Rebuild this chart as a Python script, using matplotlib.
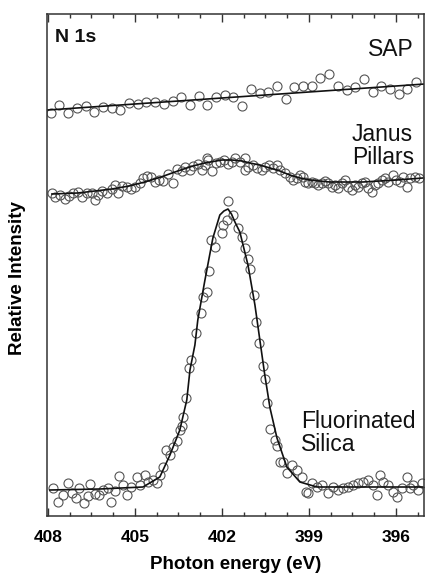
import numpy as np
import matplotlib
matplotlib.use("Agg")
import matplotlib.pyplot as plt
from matplotlib.ticker import MultipleLocator

plt.rcParams['font.family'] = ['Liberation Sans', 'DejaVu Sans']

# ---- SAP ----
sap_e = [407.90, 407.60, 407.30, 407.00, 406.70, 406.40, 406.10, 405.80, 405.50, 405.20,
         404.90, 404.60, 404.30, 404.00, 403.70, 403.40, 403.10, 402.80, 402.50, 402.20,
         401.90, 401.60, 401.30, 401.00, 400.70, 400.40, 400.10, 399.80, 399.50, 399.20,
         398.90, 398.60, 398.30, 398.00, 397.70, 397.40, 397.10, 396.80, 396.50, 396.20,
         395.90, 395.60, 395.30]
sap_i = [403, 411, 403, 408, 410, 404, 409, 408, 406, 413,
         412, 414, 414, 412, 415, 419, 411, 420, 411, 419,
         421, 419, 410, 427, 423, 424, 430, 417, 429, 430,
         430, 438, 442, 430, 426, 429, 437, 424, 430, 427,
         422, 427, 434]
sap_fit_e = [408.0, 395.0]
sap_fit_i = [406, 432]

# ---- Janus Pillars ----
jan_e = [407.86, 407.76, 407.59, 407.41, 407.28, 407.14, 406.97, 406.83, 406.66, 406.48,
         406.38, 406.28, 406.14, 405.97, 405.79, 405.69, 405.59, 405.45, 405.28, 405.14,
         405.00, 404.83, 404.72, 404.59, 404.45, 404.31, 404.17, 404.03, 403.86, 403.69,
         403.55, 403.38, 403.28, 403.10, 403.00, 402.83, 402.69, 402.59, 402.52, 402.48,
         402.34, 402.21, 402.07, 401.93, 401.79, 401.66, 401.55, 401.38, 401.21, 401.20,
         401.10, 400.93, 400.79, 400.62, 400.52, 400.38, 400.24, 400.10, 400.00, 399.83,
         399.66, 399.55, 399.41, 399.31, 399.21, 399.14, 399.03, 398.90, 398.79, 398.69,
         398.55, 398.45, 398.34, 398.21, 398.10, 398.00, 397.86, 397.76, 397.66, 397.52,
         397.41, 397.31, 397.17, 397.07, 396.97, 396.83, 396.72, 396.62, 396.48, 396.38,
         396.28, 396.10, 396.00, 395.86, 395.76, 395.62, 395.52, 395.34, 395.21]
jan_i = [323, 319, 321, 317, 320, 323, 324, 319, 323, 323,
         316, 321, 325, 323, 327, 331, 323, 330, 329, 327,
         329, 333, 338, 340, 339, 334, 336, 335, 342, 333,
         347, 345, 349, 346, 350, 352, 346, 351, 358, 356,
         345, 353, 354, 356, 352, 354, 358, 354, 358, 346,
         349, 351, 348, 346, 349, 351, 348, 351, 346, 343,
         339, 336, 338, 341, 339, 334, 333, 334, 333, 331,
         333, 335, 333, 329, 331, 328, 333, 336, 329, 326,
         331, 329, 333, 334, 328, 324, 331, 333, 336, 338,
         334, 341, 336, 334, 339, 329, 338, 339, 338]
jan_fit_e = [407.86, 406.97, 405.79, 405.20, 404.66, 404.10, 403.52, 403.00, 402.59, 402.00,
             401.66, 401.30, 401.03, 400.70, 400.34, 400.00, 399.66, 399.30, 398.97, 398.28,
             397.14, 395.97, 395.07]
jan_fit_i = [322, 323, 327, 330, 334, 339, 345, 350, 353, 356,
             356, 355, 353, 351, 348, 345, 341, 338, 336, 334,
             334, 336, 338]

# ---- Fluorinated Silica ----
flu_e = [407.83, 407.66, 407.48, 407.31, 407.17, 407.03, 406.93, 406.76, 406.62, 406.55,
         406.38, 406.24, 406.10, 405.93, 405.83, 405.69, 405.55, 405.41, 405.28, 405.14,
         404.93, 404.83, 404.66, 404.55, 404.38, 404.24, 404.14, 404.03, 403.93, 403.79,
         403.69, 403.55, 403.45, 403.38, 403.34, 403.24, 403.14, 403.07, 402.90, 402.72,
         402.66, 402.52, 402.45, 402.38, 402.24, 402.00, 401.97, 401.83, 401.79, 401.62,
         401.45, 401.31, 401.21, 401.10, 401.03, 400.90, 400.83, 400.72, 400.59, 400.52,
         400.45, 400.34, 400.17, 400.10, 400.00, 399.90, 399.76, 399.59, 399.41, 399.24,
         399.10, 399.03, 398.90, 398.72, 398.55, 398.34, 398.17, 398.00, 397.83, 397.66,
         397.48, 397.31, 397.14, 396.97, 396.79, 396.66, 396.55, 396.45, 396.28, 396.10,
         395.97, 395.79, 395.62, 395.52, 395.41, 395.24, 395.10]
flu_i = [28, 14, 21, 33, 23, 18, 28, 13, 20, 32,
         22, 21, 26, 28, 14, 25, 40, 31, 21, 29,
         39, 31, 41, 34, 36, 33, 41, 49, 66, 61,
         69, 75, 86, 90, 99, 118, 148, 156, 183, 203,
         219, 224, 245, 276, 269, 283, 291, 296, 315, 301,
         288, 279, 268, 257, 247, 221, 194, 173, 150, 137,
         113, 87, 76, 70, 54, 54, 43, 51, 46, 39,
         24, 23, 33, 29, 31, 23, 29, 26, 28, 29,
         31, 33, 34, 36, 31, 21, 41, 34, 31, 24,
         19, 28, 39, 28, 31, 26, 33]
flu_fit_e = [407.93, 406.21, 404.72, 404.14, 403.79, 403.45, 403.21, 403.10, 402.93, 402.83,
             402.59, 402.31, 402.07, 401.93, 401.79, 401.67, 401.55, 401.38, 401.10, 400.86,
             400.69, 400.52, 400.34, 400.10, 399.76, 399.31, 398.72, 395.07]
flu_fit_i = [26, 27, 29, 39, 61, 86, 116, 146, 171, 196,
             235, 278, 301, 305, 307, 302, 294, 284, 251, 211,
             176, 141, 108, 78, 49, 34, 29, 29]

fig = plt.figure(figsize=(4.25, 5.76), dpi=100)
ax = fig.add_axes([47 / 425, 60 / 576, 377 / 425, 502 / 576])

mk = dict(marker='o', linestyle='none', markersize=6.5, markerfacecolor='none',
          markeredgecolor='#555555', markeredgewidth=0.8)
for e, i in [(sap_e, sap_i), (jan_e, jan_i), (flu_e, flu_i)]:
    ax.plot(e, i, **mk)
for e, i in [(sap_fit_e, sap_fit_i), (jan_fit_e, jan_fit_i), (flu_fit_e, flu_fit_i)]:
    ax.plot(e, i, color='#111111', linewidth=1.2)

ax.set_xlim(408.03, 395.03)
ax.set_ylim(0, 502)
ax.xaxis.set_major_locator(MultipleLocator(3))
ax.xaxis.set_minor_locator(MultipleLocator(0.75))
ax.set_yticks([])
ax.tick_params(axis='x', which='both', direction='in', top=True, bottom=True,
               color='#333333', width=1.0)
ax.tick_params(axis='x', which='major', length=5.5, pad=10, labelsize=12.5)
ax.tick_params(axis='x', which='minor', length=3)
for lab in ax.get_xticklabels():
    lab.set_fontweight('bold')
for sp in ax.spines.values():
    sp.set_linewidth(1.1)
    sp.set_color('#333333')

ax.set_xlabel('Photon energy (eV)', fontsize=13.5, fontweight='bold', labelpad=8)
ax.set_ylabel('Relative Intensity', fontsize=13.5, fontweight='bold')
ax.yaxis.set_label_coords(-0.055, 0.474)

fig.text(55 / 425, 1 - 38 / 576, 'N 1s', fontsize=14,
         fontweight='bold', va='center', ha='left', color='#111111')
fig.text(414 / 425, 1 - 50 / 576, 'SAP', fontsize=16.5,
         va='center', ha='right', color='#111111')
fig.text(352 / 425, 1 - 146 / 576, 'Janus\nPillars',
         fontsize=16.5, va='center', ha='left', color='#111111', linespacing=1.05)
fig.text(301 / 425, 1 - 433 / 576, 'Fluorinated\nSilica',
         fontsize=16.5, va='center', ha='left', color='#111111', linespacing=1.05)

fig.savefig('out.png', dpi=100)
